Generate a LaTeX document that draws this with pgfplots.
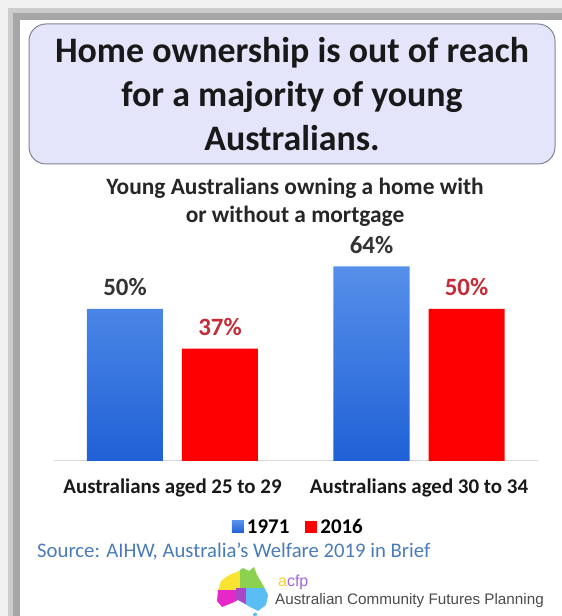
\documentclass[border=0pt]{standalone}
\usepackage{pgfplots}
\pgfplotsset{compat=1.18}
\usepackage{fontspec}
\setmainfont{Carlito}
\newfontfamily\arialf{Liberation Sans}
\definecolor{lav}{RGB}{228,228,250}
\definecolor{boxborder}{RGB}{130,130,150}
\definecolor{bluetop}{RGB}{86,144,234}
\definecolor{bluebot}{RGB}{32,96,214}
\definecolor{redbar}{RGB}{255,0,0}
\definecolor{redlab}{RGB}{196,44,56}
\definecolor{srcblue}{RGB}{74,124,184}
\definecolor{acfppurple}{RGB}{160,100,220}
\definecolor{mapyellow}{RGB}{250,228,50}
\definecolor{mapgreen}{RGB}{140,210,80}
\definecolor{mapmagenta}{RGB}{230,40,200}
\definecolor{mappurple}{RGB}{170,70,200}
\definecolor{mapblue}{RGB}{90,190,245}
\begin{document}
\begin{tikzpicture}[x=1bp,y=1bp]
\useasboundingbox (0,0) rectangle (562,616);
\fill[black!6] (0,0) rectangle (562,616);
\fill[black!20] (8,0) rectangle (562,608);
\fill[black!35] (13,0) rectangle (562,603);
\fill[white] (20,0) rectangle (562,596);
% title box
\draw[boxborder, line width=1bp, fill=lav, rounded corners=17bp] (29,452) rectangle (555,592);
\node[align=center, font=\bfseries\fontsize{36}{44}\selectfont, text=black!90] at (292,522) {Home ownership is out of reach\\for a majority of young\\Australians.};
\node[align=center, font=\bfseries\fontsize{23.5}{28}\selectfont, text=black!85] at (295,414) {Young Australians owning a home with\\or without a mortgage};
\node[anchor=west, font=\fontsize{20.8}{25}\selectfont, text=srcblue, inner sep=0] at (37,64) {Source: AIHW, Australia's Welfare 2019 in Brief};
% logo
\begin{scope}
\clip (218,26) -- (221,35) -- (229,41) -- (237,44) -- (243,48) -- (249,45) -- (254,49) -- (257,41) -- (263,31) -- (268,21) -- (266,11) -- (258,5) -- (250,9) -- (245,12) -- (238,16) -- (232,13) -- (222,9) -- (217,15) -- cycle;
\fill[mapyellow] (210,26) rectangle (240,52);
\fill[mapgreen] (240,28) rectangle (270,52);
\fill[mapmagenta] (210,0) rectangle (236,26);
\fill[mappurple] (236,0) rectangle (246,28);
\fill[mapblue] (246,0) rectangle (270,28);
\end{scope}
\fill[mapblue] (255,1.5) circle (2);
\node[anchor=west, font=\arialf\fontsize{16}{18}\selectfont, inner sep=0] at (278,34) {\textcolor{mapyellow!80!orange}{a}\textcolor{acfppurple}{cfp}};
\node[anchor=west, font=\arialf\fontsize{15.3}{18}\selectfont, text=black!70, inner sep=0] at (275,15) {Australian Community Futures Planning};
\begin{axis}[
  at={(54bp,155bp)}, anchor=south west,
  scale only axis, width=484bp, height=212.8bp,
  xmin=-0.4807, xmax=1.4828, ymin=0, ymax=70,
  ybar=19bp, bar width=76bp,
  axis y line=none, axis x line*=bottom,
  x axis line style={-, draw=black!15, line width=1bp},
  xtick={0,1}, xticklabels={Australians aged 25 to 29, Australians aged 30 to 34},
  major tick length=0pt,
  xticklabel style={anchor=base, yshift=-33bp, font=\bfseries\fontsize{21}{25}\selectfont, text=black!90},
  clip=false,
  /pgf/number format/assume math mode=true,
  nodes near coords={\pgfmathprintnumber{\pgfplotspointmeta}\%},
  nodes near coords style={font=\bfseries\fontsize{25}{30}\selectfont, anchor=center, yshift=21.5bp},
  legend style={at={(0.506,-0.310)}, anchor=center, draw=none, fill=none, legend columns=2, font=\bfseries\fontsize{21}{25}\selectfont, /tikz/every even column/.append style={column sep=13bp}, nodes={inner sep=3bp}},
  legend image code/.code={\fill[#1] (0bp,-6bp) rectangle (12bp,6bp);},
]
\addplot[draw=none, top color=bluetop, bottom color=bluebot, nodes near coords style={text=black!80}] coordinates {(0,50) (1,64)};
\addplot[draw=none, fill=redbar, nodes near coords style={text=redlab}] coordinates {(0,37) (1,50)};
\legend{1971,2016}
\end{axis}
\end{tikzpicture}
\end{document}
